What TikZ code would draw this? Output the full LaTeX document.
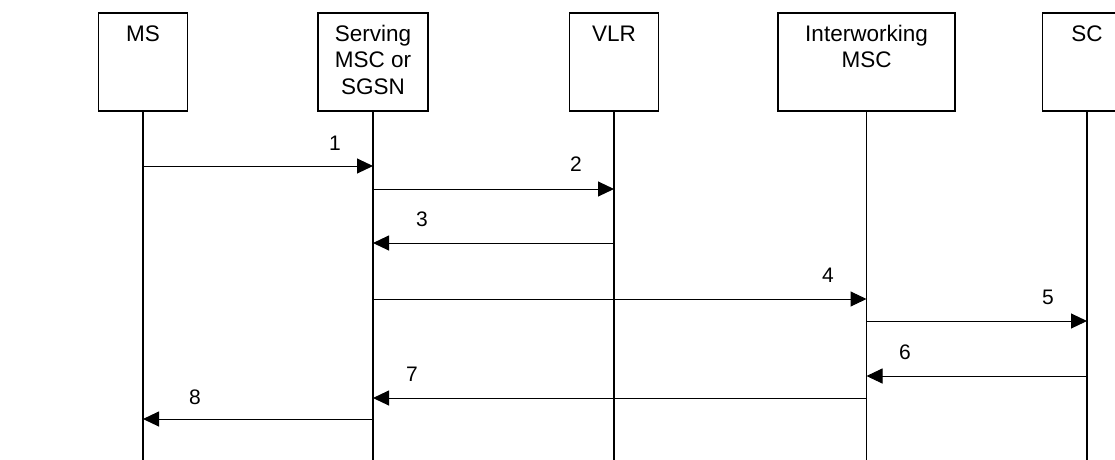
\documentclass[tikz,border=0pt]{standalone}
\usepackage{fontspec}
\setmainfont{Liberation Sans}
\usetikzlibrary{arrows.meta}
\begin{document}
\begin{tikzpicture}[x=1pt,y=-1pt,
  ent/.style={draw,line width=1.2pt,minimum height=98pt,inner sep=0pt},
  txt/.style={anchor=north,inner sep=0pt,align=center,font=\fontsize{22.5}{26.5}\selectfont},
  lbl/.style={inner sep=0pt,font=\fontsize{21}{25}\selectfont},
  life/.style={line width=1.2pt},
  msg/.style={line width=1pt,-{Triangle[length=16pt,width=15pt]}}]
\useasboundingbox (0,0) rectangle (1115,459);
\clip (0,0) rectangle (1115,459);
\fill[white] (0,0) rectangle (1115,459);
% entities
\node[ent,minimum width=89pt]  (ms)  at (143,62) {};
\node[ent,minimum width=110pt] (srv) at (373,62) {};
\node[ent,minimum width=89pt]  (vlr) at (614,62) {};
\node[ent,minimum width=177pt] (iw)  at (866.5,62) {};
\node[ent,minimum width=89pt]  (sc)  at (1087,62) {};
\node[txt] (mst)  at (143,25.5) {MS};
\node[txt] (srvt) at (373,24.5) {Serving\\MSC or\\SGSN};
\node[txt] (vlrt) at (614,25.5) {VLR};
\node[txt] (iwt)  at (866.5,24.5) {Interworking\\MSC};
\node[txt] (sct)  at (1087,25.5) {SC};
% lifelines
\coordinate (bot) at (0,460);
\foreach \e in {ms,srv,vlr,iw,sc} \draw[life] (\e.south) -- (\e.south |- bot);
% message rows
\coordinate (y1) at (0,166);
\coordinate (y2) at (0,189);
\coordinate (y3) at (0,243);
\coordinate (y4) at (0,299);
\coordinate (y5) at (0,321);
\coordinate (y6) at (0,376);
\coordinate (y7) at (0,398);
\coordinate (y8) at (0,419);
\draw[msg] (ms |- y1) -- (srv |- y1);
\draw[msg] (srv |- y2) -- (vlr |- y2);
\draw[msg] (vlr |- y3) -- (srv |- y3);
\draw[msg] (srv |- y4) -- (iw |- y4);
\draw[msg] (iw |- y5) -- (sc |- y5);
\draw[msg] (sc |- y6) -- (iw |- y6);
\draw[msg] (iw |- y7) -- (srv |- y7);
\draw[msg] (srv |- y8) -- (ms |- y8);
% labels
\node[lbl] (l1) at (335,143) {1};
\node[lbl] (l2) at (576,164) {2};
\node[lbl] (l3) at (422,219) {3};
\node[lbl] (l4) at (828,275) {4};
\node[lbl] (l5) at (1048,297) {5};
\node[lbl] (l6) at (905,352) {6};
\node[lbl] (l7) at (412,374) {7};
\node[lbl] (l8) at (195,397) {8};
\end{tikzpicture}
\end{document}
